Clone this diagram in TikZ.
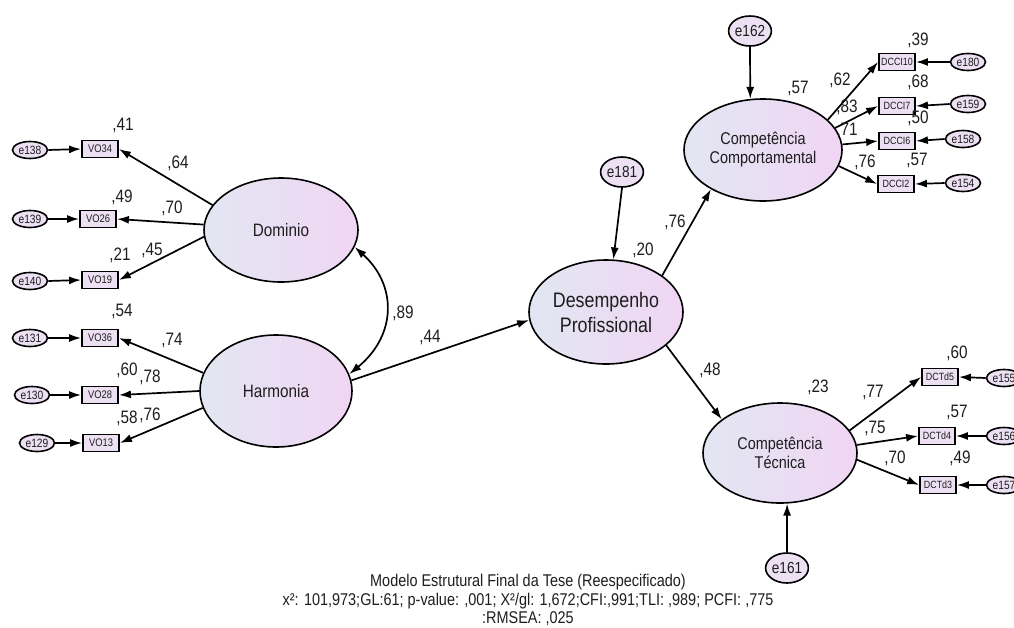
\documentclass[tikz,border=0pt]{standalone}
\usepackage{fontspec}
\newfontfamily\dfont[FakeStretch=0.85]{Liberation Sans}
\usetikzlibrary{shapes.geometric,arrows.meta}
\definecolor{shadeL}{RGB}{226,230,242}
\definecolor{shadeR}{RGB}{240,214,244}
\definecolor{boxfill}{RGB}{236,224,242}
\definecolor{ink}{RGB}{30,30,30}
\newcommand\fsz[2]{\dfont\fontsize{#1}{#2}\selectfont}

\begin{document}
\begin{tikzpicture}[x=1pt,y=-1pt, text=ink,
  latent/.style={ellipse, draw, line width=1.6pt, left color=shadeL, right color=shadeR,
                 inner sep=0pt, align=center},
  obs/.style={rectangle, draw, line width=1.8pt, fill=boxfill, minimum width=36pt,
              minimum height=17pt, inner sep=0pt, font=\fsz{11}{12}},
  err/.style={ellipse, draw, line width=1.6pt, fill=boxfill, minimum width=35pt,
              minimum height=17pt, inner sep=0pt, font=\fsz{12}{13}},
  serr/.style={ellipse, draw, line width=1.6pt, fill=boxfill, minimum width=39pt,
               minimum height=30pt, inner sep=0pt, font=\fsz{16}{17}},
  arr/.style={line width=1.7pt, -{Latex[length=12pt,width=8pt]}},
  cov/.style={line width=1.7pt, {Latex[length=12pt,width=8pt]}-{Latex[length=12pt,width=8pt]}},
  est/.style={font=\fsz{18}{19}, inner sep=0pt},
  captext/.style={font=\fsz{17}{18}, inner sep=0pt},
]
\useasboundingbox[fill=white] (0,0) rectangle (1014,627);

% latent variables
\node[latent, minimum width=154pt, minimum height=104pt, font=\fsz{18}{20}] (dom) at (281,230) {Dominio};
\node[latent, minimum width=152pt, minimum height=112pt, font=\fsz{18}{20}] (harm) at (276,391) {Harmonia};
\node[latent, minimum width=154pt, minimum height=104pt, font=\fsz{21}{25}] (des) at (606,312) {Desempenho\\Profissional};
\node[latent, minimum width=158pt, minimum height=102pt, font=\fsz{17}{19}] (cc) at (763,150) {Competência\\Comportamental};
\node[latent, minimum width=154pt, minimum height=100pt, font=\fsz{17}{19}] (ct) at (780,453) {Competência\\Técnica};

% observed indicators
\node[obs] (vo34) at (100,149) {VO34};
\node[obs] (vo26) at (98,219) {VO26};
\node[obs] (vo19) at (100,280) {VO19};
\node[obs] (vo36) at (100,338) {VO36};
\node[obs] (vo28) at (100,395) {VO28};
\node[obs] (vo13) at (101,443) {VO13};
\node[obs, font=\fsz{10.5}{11}] (dcci10) at (897,62) {DCCI10};
\node[obs, font=\fsz{10.5}{11}] (dcci7) at (897,106) {DCCI7};
\node[obs, font=\fsz{10.5}{11}] (dcci6) at (897,141) {DCCI6};
\node[obs, font=\fsz{10.5}{11}] (dcci2) at (896,184) {DCCI2};
\node[obs, font=\fsz{10.5}{11}] (dctd5) at (940,377) {DCTd5};
\node[obs, font=\fsz{10.5}{11}] (dctd4) at (937,436) {DCTd4};
\node[obs, font=\fsz{10.5}{11}] (dctd3) at (938,485) {DCTd3};

% error terms
\node[err] (e138) at (30,150) {e138};
\node[err] (e139) at (30,219) {e139};
\node[err] (e140) at (30,281) {e140};
\node[err] (e131) at (30,338) {e131};
\node[err] (e130) at (32,395) {e130};
\node[err] (e129) at (37,443) {e129};
\node[err] (e180) at (968,62) {e180};
\node[err] (e159) at (968,104) {e159};
\node[err] (e158) at (963,139) {e158};
\node[err] (e154) at (963,183) {e154};
\node[err] (e155) at (1004,378) {e155};
\node[err] (e156) at (1004,436) {e156};
\node[err] (e157) at (1004,485) {e157};
\node[serr] (e162) at (750,31) {e162};
\node[serr] (e181) at (622,172) {e181};
\node[serr] (e161) at (787,568) {e161};

% error paths
\foreach \e/\v in {e138/vo34,e139/vo26,e140/vo19,e131/vo36,e130/vo28,e129/vo13}
  \draw[arr] (\e.east) -- (\v.west);
\foreach \e/\v in {e180/dcci10,e159/dcci7,e158/dcci6,e154/dcci2,e155/dctd5,e156/dctd4,e157/dctd3}
  \draw[arr] (\e.west) -- (\v.east);
\draw[arr] (e162.south) -- (cc.104);
\draw[arr] (e181.south) -- (des.82);
\draw[arr] (e161.north) -- (ct.278);

% loadings
\draw[arr] (dom.160) -- (vo34.east);
\draw[arr] (dom.176) -- (vo26.east);
\draw[arr] (dom.185) -- (vo19.east);
\draw[arr] (harm.166) -- (vo36.east);
\draw[arr] (harm.180) -- (vo28.east);
\draw[arr] (harm.193) -- (vo13.east);
\draw[arr] (cc.25) -- (dcci10.west);
\draw[arr] (cc.17) -- (dcci7.west);
\draw[arr] (cc.4) -- (dcci6.west);
\draw[arr] (cc.-12) -- (dcci2.west);
\draw[arr] (ct.18) -- (dctd5.west);
\draw[arr] (ct.6) -- (dctd4.west);
\draw[arr] (ct.-5) -- (dctd3.west);

% structural paths
\draw[cov] (dom.-13) .. controls (397,285) and (397,335) .. (harm.13);
\draw[arr] (harm.8) -- (des.186);
\draw[arr] (des.33) -- (cc.217);
\draw[arr] (des.-29) -- (ct.150);

% estimates
\foreach \x/\y/\t [count=\i] in {
  123/125/{,41}, 178/163/{,64}, 122/197/{,49}, 172/208/{,70}, 120/255/{,21}, 152/250/{,45},
  122/311/{,54}, 172/340/{,74}, 127/370/{,60}, 150/377/{,78}, 127/418/{,58}, 150/415/{,76},
  403/313/{,89}, 430/337/{,44}, 643/250/{,20}, 675/222/{,76}, 710/370/{,48},
  798/88/{,57}, 840/80/{,62}, 847/107/{,83}, 847/130/{,71}, 865/162/{,76},
  918/40/{,39}, 918/82/{,68}, 918/118/{,50}, 917/160/{,57},
  818/387/{,23}, 957/353/{,60}, 873/392/{,77}, 957/412/{,57}, 875/428/{,75},
  895/458/{,70}, 960/458/{,49}}
  \node[est] (est\i) at (\x,\y) {\t};

% caption
\node[captext] (cap1) at (528,582) {Modelo Estrutural Final da Tese (Reespecificado)};
\node[captext] (cap2) at (528,601) {x²: 101,973;GL:61; p-value: ,001; X²/gl: 1,672;CFI:,991;TLI: ,989; PCFI: ,775};
\node[captext] (cap3) at (528,619) {:RMSEA: ,025};
\end{tikzpicture}
\end{document}
